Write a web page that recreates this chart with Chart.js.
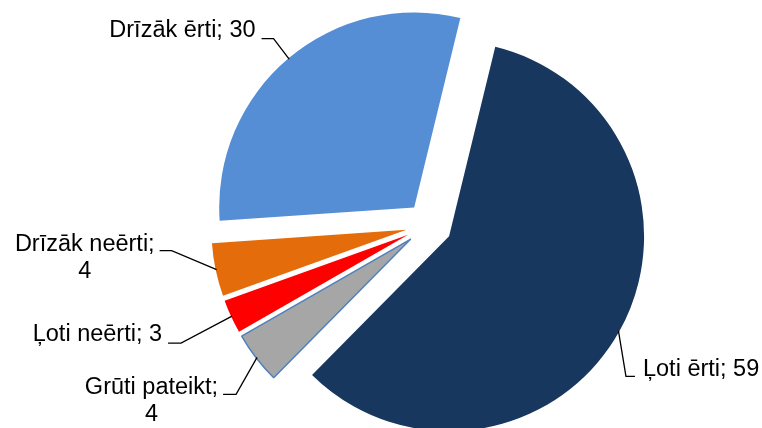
<!DOCTYPE html>
<html>
<head>
<meta charset="utf-8">
<script src="https://cdn.jsdelivr.net/npm/chart.js@4"></script>
<style>
  html,body{margin:0;padding:0;background:#fff;overflow:hidden;}
  #wrap{width:762px;height:428px;}
</style>
</head>
<body>
<div id="wrap"><canvas id="myChart" width="762" height="428"></canvas></div>
<script>
// data, clockwise from the top (slice sizes, labels show them rounded)
const categories=["Ļoti ērti","Grūti pateikt","Ļoti neērti","Drīzāk neērti","Drīzāk ērti"];
const values=[58.6,4.3,2.8,4.4,29.9];
const sliceColors=["#17375e","#a6a6a6","#ff0000","#e46c0a","#558ed5"];

// label placement: elbow offset from the slice edge, length of the flat part, wrapped or not
const labelLayout=[
    {ex:7.5,ey:45.5,h:9,wrap:false},
    {ex:-21,ey:37,h:-13,wrap:true},
    {ex:-51,ey:27,h:-13,wrap:false},
    {ex:-45,ey:-19,h:-12,wrap:true},
    {ex:-15.6,ey:-20.5,h:-12,wrap:false},
];

const explode=23;
const labelFont="23.5px 'Liberation Sans', Arial, sans-serif";

const explodePlugin={
    id:"explode",
    afterDatasetUpdate(chart,args){
        args.meta.data.forEach(arc=>{
            const mid=(arc.startAngle+arc.endAngle)/2;
            arc.x+=Math.cos(mid)*explode;
            arc.y+=Math.sin(mid)*explode;
        });
    }
};

const labelPlugin={
    id:"sliceLabels",
    afterDraw(chart){
        const ctx=chart.ctx;
        const arcs=chart.getDatasetMeta(0).data;
        ctx.save();
        ctx.font=labelFont;
        ctx.fillStyle="#000";
        ctx.strokeStyle="#000";
        ctx.lineWidth=1.3;
        arcs.forEach((arc,i)=>{
            const lay=labelLayout[i];
            const shown=Math.round(values[i]);
            const mid=(arc.startAngle+arc.endAngle)/2;
            const px=arc.x+Math.cos(mid)*(arc.outerRadius-1);
            const py=arc.y+Math.sin(mid)*(arc.outerRadius-1);
            const bx=px+lay.ex, by=py+lay.ey;
            const endX=bx+lay.h;
            ctx.beginPath();
            ctx.moveTo(px,py);
            ctx.lineTo(bx,by);
            ctx.lineTo(endX,by);
            ctx.stroke();

            ctx.textBaseline="alphabetic";
            if(lay.wrap){
                const l1=categories[i]+";";
                const w1=ctx.measureText(l1).width;
                const right=endX-5;
                ctx.textAlign="right";
                ctx.fillText(l1,right,by);
                ctx.textAlign="center";
                ctx.fillText(String(shown),right-w1/2,by+27);
            }else{
                const txt=categories[i]+"; "+shown;
                if(lay.h>0){
                    ctx.textAlign="left";
                    ctx.fillText(txt,endX+8,by);
                }else{
                    ctx.textAlign="right";
                    ctx.fillText(txt,endX-6,by-2);
                }
            }
        });
        ctx.restore();
    }
};

const ctx=document.getElementById("myChart").getContext("2d");
const myChart=new Chart(ctx,{
    type:"pie",
    data:{
        labels:categories,
        datasets:[{
            data:values,
            backgroundColor:sliceColors,
            borderColor:["#ffffff","#4f81bd","#ffffff","#ffffff","#ffffff"],
            borderWidth:[0,1.5,0,0,0],
            clip:false,
        }],
    },
    options:{
        responsive:false,
        devicePixelRatio:1,
        animation:false,
        events:[],
        rotation:13.7,
        radius:195,
        layout:{padding:{left:96,top:22,right:0,bottom:0}},
        plugins:{
            legend:{display:false},
            tooltip:{enabled:false},
        },
    },
    plugins:[explodePlugin,labelPlugin],
});
</script>
</body>
</html>
